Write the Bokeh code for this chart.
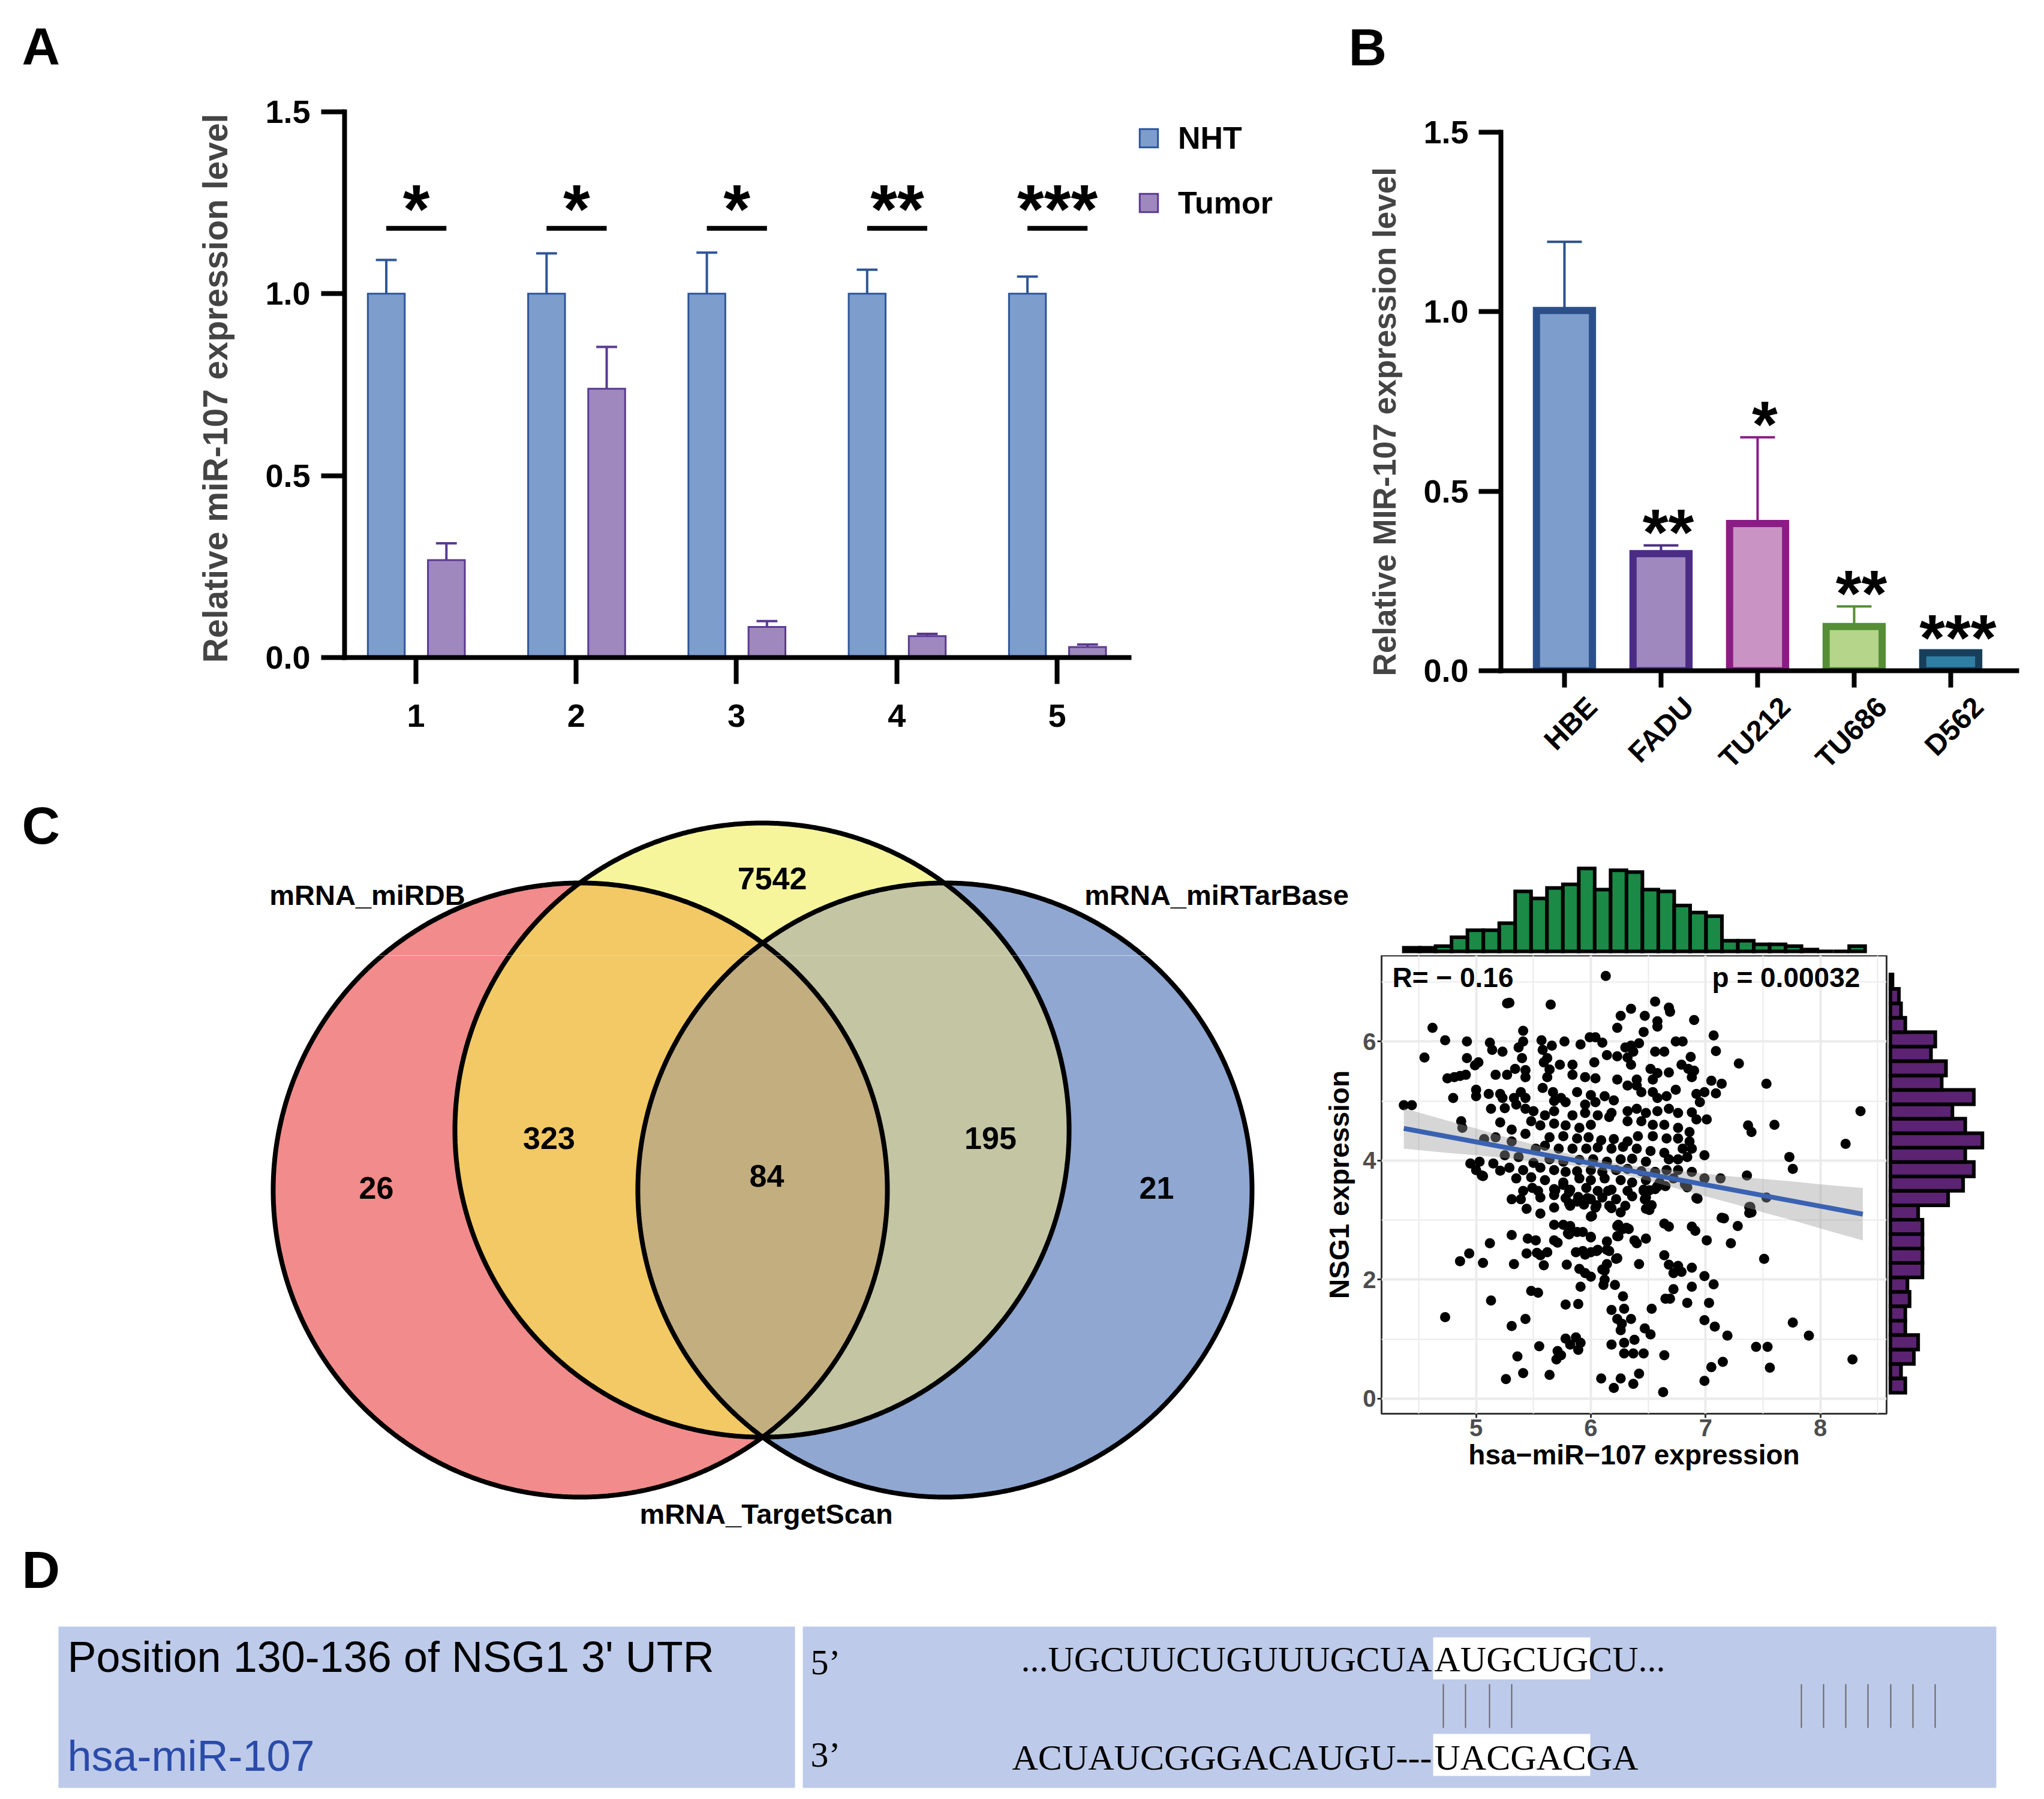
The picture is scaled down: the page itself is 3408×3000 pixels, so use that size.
import numpy as np
from bokeh.plotting import figure
from bokeh.layouts import column, row
from bokeh.models import (Range1d, FixedTicker, Legend, LegendItem, NumeralTickFormatter,
                          CustomJSTickFormatter)
from bokeh.core.properties import value
from bokeh.embed import file_html
from bokeh.resources import INLINE

SANS = "Liberation Sans"
SERIF = "Liberation Serif"

# ---------------- Panel A data ----------------
a_samples = ["1", "2", "3", "4", "5"]
a_series = ["NHT", "Tumor"]
a_nht_mean = [1.0, 1.0, 1.0, 1.0, 1.0]
a_nht_err = [0.093, 0.111, 0.113, 0.066, 0.047]
a_tumor_mean = [0.268, 0.739, 0.084, 0.059, 0.029]
a_tumor_err = [0.046, 0.115, 0.016, 0.006, 0.007]
a_sig = ["*", "*", "*", "**", "***"]
a_yticks = [0.0, 0.5, 1.0, 1.5]

# ---------------- Panel B data ----------------
b_lines = ["HBE", "FADU", "TU212", "TU686", "D562"]
b_mean = [1.003, 0.326, 0.410, 0.123, 0.050]
b_err = [0.191, 0.023, 0.240, 0.056, 0.006]
b_sig = ["", "**", "*", "**", "***"]
b_yticks = [0.0, 0.5, 1.0, 1.5]

# ---------------- Panel C venn data ----------------
venn_sets = ["mRNA_miRDB", "mRNA_TargetScan", "mRNA_miRTarBase"]
venn_regions = ["miRDB", "miRDB&TargetScan", "TargetScan", "all", "TargetScan&miRTarBase", "miRTarBase"]
venn_counts = [26, 323, 7542, 84, 195, 21]

# ---------------- Scatter data (hsa-miR-107 vs NSG1) ----------------
mir107_expr = [
    6.13, 5.27, 5.29, 5.65, 6.56, 6.35, 6.68, 6.69,
    6.26, 6.47, 6.90, 4.62, 5.41, 6.23, 6.58, 6.46, 4.73, 4.92, 5.12, 5.41, 5.57, 5.77, 5.99, 6.04, 6.10, 6.42, 6.35, 6.74, 6.80, 7.07,
    4.55, 5.14, 5.23, 5.37, 5.58, 5.66, 5.91, 6.14, 6.23, 6.30, 6.32, 6.37, 6.56, 6.64, 6.87, 7.09, 4.92, 5.40, 5.62,
    4.99, 5.02, 5.59, 5.73, 5.84, 6.03, 6.35, 6.52, 6.58, 6.68, 6.79, 6.85, 6.90, 7.29, 5.34, 5.43, 5.64, 5.95, 6.04, 6.23,
    6.40, 6.54, 6.88, 4.75, 4.81, 4.86, 4.91, 5.17, 5.27, 5.43, 5.62, 5.84,
    7.53, 7.05, 7.14, 6.99, 7.09, 6.92, 4.80, 5.00, 5.00, 5.11, 5.21, 5.23, 5.33, 5.39, 5.43, 5.58, 5.67, 5.74, 5.88, 6.00,
    6.12, 6.20, 6.32, 6.40, 6.44, 6.54, 6.58, 6.66, 6.74, 5.68, 5.78, 5.95, 6.04, 6.95, 4.37, 4.44, 5.35, 5.43, 5.50, 5.13,
    8.35, 5.25, 5.60, 5.68, 5.84, 5.95, 6.06, 6.18, 6.32, 6.40, 6.48, 6.58, 6.68, 6.76, 6.88, 7.01, 6.92, 6.16, 6.32, 6.44,
    6.54, 6.64, 4.87, 4.88, 5.21, 5.56, 5.68, 5.78, 5.90, 6.00, 5.48, 7.37, 7.40, 7.60, 6.76, 6.86,
    5.31, 5.43, 5.64, 5.76, 5.88, 5.98, 6.09, 6.20, 6.32, 6.41, 6.54, 6.66, 6.76, 6.86, 8.22, 5.07, 5.17, 5.31, 5.52, 5.60,
    5.72, 5.84, 5.96, 6.06, 6.18, 6.28, 6.40, 6.52, 6.64, 6.80, 6.88, 6.99, 4.95, 5.03, 5.15, 5.25, 5.37, 5.50, 5.64, 5.76,
    5.90, 6.02, 6.14, 6.26, 6.36, 6.48, 6.68, 6.76, 6.84, 7.73,
    5.00, 5.05, 5.21, 5.29, 5.41, 5.56, 5.68, 5.78, 5.88, 6.00, 6.10, 6.22, 6.32, 6.44, 6.56, 6.66, 6.76, 6.88, 7.76, 7.36,
    7.13, 6.99, 5.06, 5.35, 5.48, 5.60, 5.76, 5.90, 6.00, 6.12, 6.26, 6.36, 6.48, 6.60, 6.72, 6.82, 5.41, 5.54, 5.68, 5.82,
    5.96, 6.06, 6.18, 6.32, 6.46, 6.58,
    5.31, 5.44, 5.56, 5.68, 5.78, 5.88, 6.00, 6.10, 6.22, 6.36, 6.48, 6.92, 7.53, 5.56, 5.68, 5.82, 5.94, 6.04, 6.16, 6.30,
    6.48, 7.38, 7.38, 6.00, 7.14, 7.28,
    5.68, 5.76, 5.82, 6.64, 6.68, 6.23, 6.28, 6.33, 6.88, 6.91, 5.31, 5.45, 5.52, 5.68, 5.80, 5.88, 6.00, 6.14, 6.24, 6.38,
    6.40, 6.48, 7.22, 7.01, 5.12, 5.71,
    5.44, 5.53, 5.62, 5.87, 6.00, 6.06, 6.16, 4.94, 4.86, 5.06, 5.33, 5.59, 5.79, 5.90, 5.95, 6.00, 6.10, 6.23, 6.42, 6.64,
    6.68, 6.76, 6.72, 6.88, 6.99, 7.51, 6.12,
    7.07, 6.88, 6.72, 6.11, 6.21, 5.91, 5.48, 5.54, 5.13, 5.78, 5.89, 6.18, 6.29, 6.53, 6.65, 6.69, 6.84, 7.03,
    4.73, 5.43, 6.23, 6.27, 6.35, 6.99, 5.31, 7.08, 6.47, 6.52, 7.76, 7.90, 7.19, 5.78, 5.87, 5.91, 5.82, 6.38, 6.18, 6.29,
    5.55, 5.71, 5.74, 5.70, 5.89, 7.44, 7.54, 6.29, 6.37, 6.46, 6.64, 7.15, 8.28, 5.36, 7.05, 7.56,
    5.41, 5.64, 6.42, 5.26, 6.09, 6.26, 6.37, 6.20, 6.99, 6.63,
    5.39, 5.49, 5.69, 5.76, 5.81, 5.89, 5.81, 5.81, 5.93, 6.00, 5.97, 6.01, 6.05, 6.15, 6.18, 6.26, 6.24, 6.31, 6.23, 6.14,
    6.05, 5.93, 5.95, 6.22, 6.14, 6.12, 5.56, 6.28, 6.26, 6.46, 6.51, 6.56, 6.58, 6.65, 6.47, 6.53, 6.51, 6.84, 6.93, 7.16,
    7.40, 7.39, 6.79, 6.58,
]
nsg1_expr = [
    7.10, 6.64, 6.65, 6.62, 6.67, 6.55, 6.57, 6.50,
    6.43, 6.43, 6.36, 6.23, 6.18, 6.23, 6.34, 6.16, 6.02, 6.00, 5.98, 6.00, 6.02, 6.00, 6.07, 6.07, 5.98, 5.97, 5.93, 6.00, 6.00, 6.10,
    5.73, 5.86, 5.83, 5.90, 5.86, 5.93, 5.95, 5.77, 5.75, 5.90, 5.73, 5.83, 5.83, 5.83, 5.74, 5.84, 5.72, 5.72, 5.72,
    5.60, 5.65, 5.65, 5.61, 5.61, 5.65, 5.61, 5.54, 5.47, 5.48, 5.61, 5.54, 5.51, 5.63, 5.54, 5.52, 5.53, 5.40, 5.38, 5.36,
    5.36, 5.36, 5.40, 5.38, 5.40, 5.42, 5.44, 5.44, 5.44, 5.40, 5.40, 5.44,
    5.29, 5.34, 5.29, 5.15, 5.13, 5.12, 5.05, 5.19, 5.08, 5.12, 5.12, 5.05, 5.05, 5.15, 5.05, 5.22, 5.15, 5.05, 5.15, 5.10,
    5.08, 5.01, 5.26, 5.26, 5.15, 5.15, 5.05, 5.08, 5.19, 5.00, 4.98, 4.94, 4.98, 4.98, 4.93, 4.93, 4.94, 4.87, 4.83, 4.87,
    4.83, 4.88, 4.76, 4.83, 4.76, 4.80, 4.76, 4.80, 4.83, 4.87, 4.80, 4.83, 4.87, 4.80, 4.81, 4.69, 4.69, 4.73, 4.66, 4.66,
    4.60, 4.60, 4.66, 4.55, 4.64, 4.59, 4.62, 4.59, 4.55, 4.60, 4.66, 4.59, 4.48, 4.60, 4.55, 4.48,
    4.52, 4.45, 4.39, 4.41, 4.37, 4.39, 4.34, 4.36, 4.32, 4.41, 4.41, 4.37, 4.37, 4.32, 4.28, 4.36, 4.39, 4.32, 4.20, 4.25,
    4.20, 4.20, 4.20, 4.22, 4.20, 4.23, 4.20, 4.16, 4.13, 4.20, 4.20, 4.09, 3.95, 3.98, 3.95, 4.09, 4.06, 3.96, 4.02, 3.98,
    4.01, 4.02, 3.98, 4.02, 4.03, 3.98, 4.02, 4.02, 4.06, 4.06,
    3.84, 3.75, 3.83, 3.88, 3.84, 3.88, 3.84, 3.81, 3.82, 3.84, 3.81, 3.84, 3.86, 3.82, 3.81, 3.84, 3.84, 3.81, 3.86, 3.75,
    3.70, 3.70, 3.74, 3.70, 3.72, 3.67, 3.63, 3.70, 3.67, 3.70, 3.67, 3.63, 3.67, 3.63, 3.70, 3.60, 3.49, 3.49, 3.52, 3.51,
    3.54, 3.49, 3.51, 3.49, 3.51, 3.56,
    3.35, 3.19, 3.38, 3.42, 3.37, 3.31, 3.35, 3.38, 3.35, 3.40, 3.38, 3.37, 3.38, 3.11, 3.21, 3.24, 3.26, 3.21, 3.24, 3.24,
    3.19, 3.22, 3.12, 3.06, 3.04, 2.90,
    2.92, 2.92, 2.90, 2.94, 2.89, 2.90, 2.85, 2.85, 2.89, 2.82, 2.75, 2.69, 2.66, 2.66, 2.78, 2.80, 2.71, 2.64, 2.73, 2.66,
    2.61, 2.69, 2.61, 2.66, 2.61, 2.62,
    2.44, 2.45, 2.46, 2.46, 2.46, 2.50, 2.48, 2.44, 2.31, 2.28, 2.26, 2.24, 2.25, 2.18, 2.11, 2.05, 2.17, 2.36, 2.26, 2.41,
    2.25, 2.23, 2.11, 2.20, 2.06, 2.35, 2.00,
    1.92, 1.88, 1.84, 1.91, 1.91, 1.88, 1.81, 1.78, 1.65, 1.58, 1.59, 1.49, 1.51, 1.51, 1.68, 1.68, 1.61, 1.61,
    1.37, 1.34, 1.34, 1.26, 1.34, 1.32, 1.22, 1.21, 1.18, 1.08, 1.28, 1.06, 1.06, 1.01, 1.03, 0.94, 0.91, 0.99, 0.91, 0.94,
    0.88, 0.80, 0.73, 0.66, 0.82, 0.87, 0.87, 0.76, 0.76, 0.76, 0.73, 0.62, 0.66, 0.71, 0.53, 0.52,
    0.43, 0.40, 0.42, 0.33, 0.34, 0.34, 0.25, 0.18, 0.30, 0.11,
    3.35, 3.54, 3.50, 3.59, 3.47, 3.39, 3.28, 2.76, 2.80, 2.72, 3.37, 3.07, 3.25, 3.49, 3.20, 3.13, 2.92, 2.87, 2.73, 2.50,
    2.48, 2.48, 2.42, 2.35, 2.26, 2.15, 2.41, 1.72, 1.15, 3.49, 3.50, 3.52, 3.57, 3.57, 3.35, 3.25, 3.17, 3.55, 3.36, 3.03,
    3.13, 3.22, 2.13, 6.25,
]
n_pts = min(len(mir107_expr), len(nsg1_expr))
mir107_expr = mir107_expr[:n_pts]
nsg1_expr = nsg1_expr[:n_pts]

# linear fit with confidence band
fit_x = [4.37, 8.37]
fit_y = [4.54, 3.10]
band_x = [4.37, 4.75, 5.00, 5.25, 5.50, 5.75, 6.00, 6.25, 6.50, 6.75, 7.00, 7.25, 7.50, 7.75, 8.00, 8.37]
band_lo = [4.20, 4.13, 4.09, 4.04, 3.99, 3.94, 3.87, 3.78, 3.66, 3.53, 3.40, 3.27, 3.13, 3.00, 2.86, 2.66]
band_hi = [4.88, 4.67, 4.54, 4.40, 4.27, 4.14, 4.03, 3.94, 3.88, 3.83, 3.78, 3.73, 3.69, 3.65, 3.60, 3.54]
stat_r_text = "R= \u2212 0.16"
stat_p_text = "p = 0.00032"

# marginal histograms (counts per bin)
hist_x_counts = [2, 2, 3, 8, 12, 12, 16, 34, 30, 36, 38, 47, 35, 46, 45, 35, 34, 26, 22, 20, 6, 6, 4, 4, 3, 1, 0, 0, 3]
hist_x_lim = [4.37, 8.39]
hist_y_counts = [7, 5, 11, 13, 7, 7, 9, 8, 15, 15, 15, 15, 13, 27, 34, 39, 35, 43, 35, 29, 39, 24, 26, 19, 21, 7, 5, 4, 1]
hist_y_lim = [0.10, 7.125]

# ---------------- Panel D text ----------------
d_row1_label = "Position 130-136 of NSG1 3' UTR"
d_row2_label = "hsa-miR-107"
d_row1_end = "5\u2019"
d_row2_end = "3\u2019"
d_seq1 = ["...UGCUUCUGUUUGCUA", "AUGCUGCU..."]
d_seq2 = ["ACUAUCGGGACAUGU---", "UACGACGA"]

# ---------------- colours ----------------
NHT_FILL, NHT_LINE = "#7D9DCD", "#2F5597"
TUM_FILL, TUM_LINE = "#9E88BE", "#5A3A92"
b_fill = ["#7D9DCD", "#9E88BE", "#C994C3", "#B5D58B", "#2F7FA5"]
b_line = ["#2B5089", "#4A2C85", "#8B1C86", "#568E36", "#173F5B"]


def fig(**kw):
    p = figure(output_backend="svg", toolbar_location=None, frame_align=False, **kw)
    p.outline_line_color = None
    p.background_fill_color = "white"
    p.border_fill_color = "white"
    p.xgrid.visible = False
    p.ygrid.visible = False
    return p


def page_fig(x0, x1, y0, y1):
    """axis-less figure whose data units are page pixels (y downwards)"""
    return fig(width=x1 - x0, height=y1 - y0, x_range=Range1d(x0, x1), y_range=Range1d(y1, y0),
               min_border=0, x_axis_location=None, y_axis_location=None)


def style_axis(ax, tick_out, label_size, standoff):
    ax.axis_line_width = 8
    ax.axis_line_cap = "square"
    ax.major_tick_line_width = 8
    ax.major_tick_out = tick_out
    ax.major_tick_in = 0
    ax.minor_tick_line_color = None
    ax.major_label_text_font = SANS
    ax.major_label_text_font_style = "bold"
    ax.major_label_text_font_size = label_size
    ax.major_label_text_color = "black"
    ax.major_label_standoff = standoff


def put_text(p, x, y, s, size, align="left", font=SANS, style="bold", color="black", **kw):
    p.text(x=x, y=y, text=s, text_align=align, text_baseline="middle", text_font=value(font),
           text_font_style=style, text_font_size=size, text_color=color, **kw)


# ======================= Panel A =======================
hdrA = page_fig(8, 2200, 8, 160)
put_text(hdrA, [44], [84], ["A"], "88px")

A_X0 = 0.5547
pA = fig(width=2192, height=1140, x_range=Range1d(A_X0, 6.5716), y_range=Range1d(0, 1.5066),
         min_border_left=574, min_border_right=10, min_border_top=30, min_border_bottom=196)
xa = np.arange(1, len(a_samples) + 1, dtype=float)
nx = xa - 0.185
tx = xa + 0.19
r_nht = pA.vbar(x=nx, top=a_nht_mean, width=0.23, bottom=0, fill_color=NHT_FILL,
                line_color=NHT_LINE, line_width=3, line_join="miter")
r_tum = pA.vbar(x=tx, top=a_tumor_mean, width=0.23, bottom=0, fill_color=TUM_FILL,
                line_color=TUM_LINE, line_width=3, line_join="miter")
nht_top = np.array(a_nht_mean) + np.array(a_nht_err)
tum_top = np.array(a_tumor_mean) + np.array(a_tumor_err)
for xx, base, top, col in ((nx, a_nht_mean, nht_top, NHT_LINE), (tx, a_tumor_mean, tum_top, TUM_LINE)):
    pA.segment(x0=xx, y0=base, x1=xx, y1=top, line_color=col, line_width=4)
    pA.segment(x0=xx - 0.065, y0=top, x1=xx + 0.065, y1=top, line_color=col, line_width=4)
sig_y = 1.18
pA.segment(x0=nx, y0=[sig_y] * 5, x1=tx, y1=[sig_y] * 5, line_color="black", line_width=8)
put_text(pA, (nx + tx) / 2, [1.233] * 5, a_sig, "115px", align="center")

axA = pA.xaxis[0]
axA.ticker = FixedTicker(ticks=list(xa))
axA.major_label_overrides = {int(v): s for v, s in zip(xa, a_samples)}
axA.bounds = (A_X0, 5.449)
style_axis(axA, 44, "54px", 34)
ayA = pA.yaxis[0]
ayA.ticker = FixedTicker(ticks=a_yticks)
ayA.formatter = NumeralTickFormatter(format="0.0")
ayA.bounds = (0, 1.5)
style_axis(ayA, 39, "54px", 18)
ayA.axis_label = "Relative  miR-107 expression level"
ayA.axis_label_text_font = SANS
ayA.axis_label_text_font_style = "bold"
ayA.axis_label_text_font_size = "57px"
ayA.axis_label_standoff = 48

legA = Legend(items=[LegendItem(label=a_series[0], renderers=[r_nht]),
                     LegendItem(label=a_series[1], renderers=[r_tum])],
              location=(1322, 723), orientation="vertical", glyph_width=38, glyph_height=38,
              label_height=70, spacing=38, padding=0, margin=0, border_line_color=None,
              background_fill_alpha=0, label_text_font=SANS, label_text_font_style="bold",
              label_text_font_size="52px", label_text_color="black", label_standoff=30)
pA.add_layout(legA)

# ======================= Panel B =======================
hdrB = page_fig(2200, 3392, 8, 195)
put_text(hdrB, [2256], [86], ["B"], "88px")

B_FOOT_TOP = 1157
pB = fig(width=1192, height=B_FOOT_TOP - 195, x_range=Range1d(0.342, 5.758), y_range=Range1d(0, 1.5092),
         min_border_left=310, min_border_right=10, min_border_top=27, min_border_bottom=B_FOOT_TOP - 1126)
xb = np.arange(1, len(b_lines) + 1, dtype=float)
pB.vbar(x=xb, top=b_mean, width=0.58, bottom=0, fill_color=b_fill, line_color=b_line,
        line_width=12, line_join="miter")
b_top = np.array(b_mean) + np.array(b_err)
pB.segment(x0=xb, y0=b_mean, x1=xb, y1=b_top, line_color=b_line, line_width=4)
pB.segment(x0=xb - 0.18, y0=b_top, x1=xb + 0.18, y1=b_top, line_color=b_line, line_width=4)
put_text(pB, xb, b_top + 0.038, b_sig, "110px", align="center", x_offset=12)
axB = pB.xaxis[0]
axB.ticker = FixedTicker(ticks=list(xb))
axB.formatter = CustomJSTickFormatter(code="return ''")
axB.bounds = (0.342, 5.683)
style_axis(axB, 28, "1px", 0)
ayB = pB.yaxis[0]
ayB.ticker = FixedTicker(ticks=b_yticks)
ayB.formatter = NumeralTickFormatter(format="0.0")
ayB.bounds = (0, 1.5)
style_axis(ayB, 37, "54px", 17)
# trailing no-break spaces shift the (centred) rotated label down to where the reference has it
ayB.axis_label = "Relative MIR-107 expression level" + "\u00a0" * 5
ayB.axis_label_text_font = SANS
ayB.axis_label_text_font_style = "bold"
ayB.axis_label_text_font_size = "53px"
ayB.axis_label_standoff = 32

# rotated category names under panel B (same x scale as pB)
footB = fig(width=1192, height=1300 - B_FOOT_TOP, x_range=pB.x_range, y_range=Range1d(1300, B_FOOT_TOP),
            min_border_left=310, min_border_right=10, min_border_top=0, min_border_bottom=0,
            x_axis_location=None, y_axis_location=None)
put_text(footB, xb, [1178] * len(xb), b_lines, "48px", align="right", x_offset=46, angle=np.pi / 4)

# ======================= Panel C (Venn) =======================
VENN_R = 512
venn_circles = [(975.0, 1992.0, VENN_R), (1278.0, 1892.0, VENN_R), (1583.0, 1992.0, VENN_R)]
C_R, C_Y, C_B = "#F28B8B", "#F6F59C", "#8FA7D1"
C_RY, C_YB, C_RYB = "#F2C964", "#C4C5A3", "#C3AE80"


def circle_pts(c, n=900):
    t = np.linspace(0, 2 * np.pi, n, endpoint=False)
    return c[0] + c[2] * np.cos(t), c[1] + c[2] * np.sin(t)


def inter_poly(cs):
    xs, ys = [], []
    for i, c in enumerate(cs):
        px, py = circle_pts(c)
        m = np.ones(px.shape, bool)
        for j, d in enumerate(cs):
            if j != i:
                m &= (px - d[0]) ** 2 + (py - d[1]) ** 2 <= d[2] ** 2 + 1e-6
        xs.append(px[m])
        ys.append(py[m])
    xs = np.concatenate(xs)
    ys = np.concatenate(ys)
    cx, cy = xs.mean(), ys.mean()
    o = np.argsort(np.arctan2(ys - cy, xs - cx))
    return list(xs[o]), list(ys[o])


def draw_venn(p):
    R, Y, B = venn_circles
    for c, col in ((R, C_R), (B, C_B), (Y, C_Y)):
        px, py = circle_pts(c)
        p.patch(list(px), list(py), fill_color=col, line_color=None)
    for cs, col in (((R, Y), C_RY), ((Y, B), C_YB), ((R, B), C_RYB)):
        px, py = inter_poly(cs)
        p.patch(px, py, fill_color=col, line_color=None)
    for c in venn_circles:
        px, py = circle_pts(c)
        p.patch(list(px), list(py), fill_color=None, line_color="black", line_width=8)


SPLIT_Y = 1601
ROW2_END = 2560
pV1 = page_fig(8, 2280, 1300, SPLIT_Y)
pV2 = page_fig(8, 2200, SPLIT_Y, ROW2_END)
draw_venn(pV1)
draw_venn(pV2)

num_pos = {"miRDB": (635, 1988), "miRDB&TargetScan": (923, 1905), "TargetScan": (1295, 1472),
           "all": (1286, 1968), "TargetScan&miRTarBase": (1659, 1905), "miRTarBase": (1936, 1988)}
name_pos = [(620, 1500), (1285, 2532), (2036, 1500)]
for p, top in ((pV1, True), (pV2, False)):
    sel = [k for k in range(len(venn_regions)) if (num_pos[venn_regions[k]][1] < SPLIT_Y) == top]
    if sel:
        put_text(p, [num_pos[venn_regions[k]][0] for k in sel], [num_pos[venn_regions[k]][1] for k in sel],
                 [str(venn_counts[k]) for k in sel], "52px", align="center")
    seln = [k for k in range(3) if (name_pos[k][1] < SPLIT_Y) == top]
    put_text(p, [name_pos[k][0] for k in seln], [name_pos[k][1] for k in seln],
             [venn_sets[k] for k in seln], "47px", align="center")
put_text(pV1, [44], [1384], ["C"], "88px")

# ======================= Scatter with marginals =======================
S_BOTTOM = ROW2_END - 2365
pS = fig(width=956, height=ROW2_END - SPLIT_Y, x_range=Range1d(4.176, 8.577), y_range=Range1d(-0.252, 7.443),
         min_border_left=111, min_border_right=3, min_border_top=0, min_border_bottom=S_BOTTOM)
pS.outline_line_color = "#333333"
pS.outline_line_width = 3
pS.xgrid.visible = True
pS.ygrid.visible = True
tx_s = FixedTicker(ticks=[5, 6, 7, 8], minor_ticks=[4.5, 5.5, 6.5, 7.5, 8.5])
ty_s = FixedTicker(ticks=[0, 2, 4, 6], minor_ticks=[1, 3, 5, 7])
pS.xaxis.ticker = tx_s
pS.yaxis.ticker = ty_s
pS.xgrid.ticker = tx_s
pS.ygrid.ticker = ty_s
for g in (pS.xgrid[0], pS.ygrid[0]):
    g.grid_line_color = "#EBEBEB"
    g.grid_line_width = 4
    g.minor_grid_line_color = "#EBEBEB"
    g.minor_grid_line_width = 2
for ax in (pS.xaxis[0], pS.yaxis[0]):
    ax.axis_line_color = None
    ax.major_tick_line_color = "#333333"
    ax.major_tick_line_width = 3
    ax.major_tick_out = 7
    ax.major_tick_in = 0
    ax.minor_tick_line_color = None
    ax.major_label_text_color = "#4D4D4D"
    ax.major_label_text_font = SANS
    ax.major_label_text_font_style = "bold"
    ax.major_label_text_font_size = "40px"
    ax.major_label_standoff = 2
    ax.axis_label_text_font = SANS
    ax.axis_label_text_font_style = "bold"
    ax.axis_label_text_font_size = "46px"
    ax.axis_label_text_color = "black"
pS.xaxis.axis_label = "hsa\u2212miR\u2212107 expression"
pS.xaxis.axis_label_standoff = 2
pS.yaxis.axis_label = "NSG1 expression"
pS.yaxis.axis_label_standoff = 10
pS.scatter(x=mir107_expr, y=nsg1_expr, size=17, fill_color="black", line_color=None)
pS.varea(x=band_x, y1=band_lo, y2=band_hi, fill_color="#999999", fill_alpha=0.4)
pS.line(x=fit_x, y=fit_y, line_color="#3A62B2", line_width=8)
put_text(pS, [4.27], [7.08], [stat_r_text], "46px", align="left")
put_text(pS, [8.346], [7.08], [stat_p_text], "46px", align="right")

pHx = fig(width=1112, height=301, x_range=pS.x_range, y_range=Range1d(-2.38, 100.0),
          min_border_left=31, min_border_right=239, min_border_top=0, min_border_bottom=0,
          x_axis_location=None, y_axis_location=None)
ex = np.linspace(hist_x_lim[0], hist_x_lim[1], len(hist_x_counts) + 1)
pHx.quad(left=ex[:-1], right=ex[1:], bottom=0, top=hist_x_counts, fill_color="#1A8A46",
         line_color="black", line_width=6, line_join="miter")

pHy = fig(width=236, height=ROW2_END - SPLIT_Y, x_range=Range1d(-0.92, 65.2), y_range=pS.y_range,
          min_border_left=0, min_border_right=0, min_border_top=0, min_border_bottom=S_BOTTOM,
          x_axis_location=None, y_axis_location=None)
ey = np.linspace(hist_y_lim[0], hist_y_lim[1], len(hist_y_counts) + 1)
pHy.quad(left=0, right=hist_y_counts, bottom=ey[:-1], top=ey[1:], fill_color="#5B2371",
         line_color="black", line_width=6, line_join="miter")

# ======================= Panel D =======================
pD = page_fig(8, 3392, ROW2_END, 2992)
pD.quad(left=[105, 1346], right=[1333, 3336], top=[2720, 2720], bottom=[2989, 2989],
        fill_color="#BDCAEA", line_color=None)
pD.quad(left=[2397, 2397], right=[2659, 2659], top=[2738, 2899], bottom=[2808, 2969],
        fill_color="white", line_color=None)
pair_x = [2414, 2451, 2491, 2528, 3011, 3048, 3085, 3122, 3160, 3197, 3234]
pD.segment(x0=pair_x, y0=[2816] * len(pair_x), x1=pair_x, y1=[2889] * len(pair_x),
           line_color="#666666", line_width=2)
put_text(pD, [44], [2625], ["D"], "88px")
put_text(pD, [120], [2770], [d_row1_label], "72px", style="normal")
put_text(pD, [120], [2935], [d_row2_label], "72px", style="normal", color="#2A4BA8")
put_text(pD, [1359, 1359], [2779, 2933], [d_row1_end, d_row2_end], "60px", font=SERIF, style="normal")
put_text(pD, [2395, 2395], [2774, 2938], [d_seq1[0], d_seq2[0]], "60px", align="right", font=SERIF, style="normal")
put_text(pD, [2399, 2399], [2774, 2938], [d_seq1[1], d_seq2[1]], "60px", font=SERIF, style="normal")

layout = column(row(column(hdrA, pA), column(hdrB, pB, footB)),
                row(pV1, pHx),
                row(pV2, pS, pHy),
                pD)
with open("out.html", "w") as f:
    f.write(file_html(layout, INLINE))
